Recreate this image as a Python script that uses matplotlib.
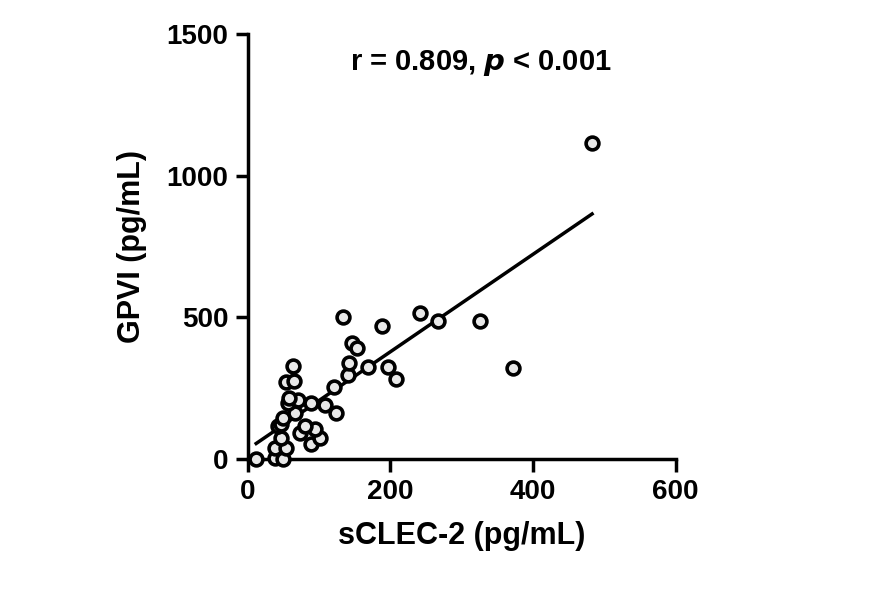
import numpy as np
import matplotlib
matplotlib.use("Agg")
from matplotlib import pyplot as plt

plt.rcParams['font.family'] = ['Liberation Sans', 'DejaVu Sans']
plt.rcParams['font.weight'] = 'bold'

sclec2 = [12, 38, 50, 39, 54, 47, 73, 89, 101, 94, 80, 43, 47, 50, 66, 57, 71, 58, 89,
          108, 124, 54, 65, 64, 121, 141, 142, 146, 153, 134, 169, 188, 197, 208, 242,
          267, 326, 372, 483]
gpvi = [0, 3, 0, 39, 38, 73, 91, 55, 73, 105, 116, 116, 124, 144, 163, 199, 208, 214, 199,
        191, 163, 273, 276, 328, 253, 296, 340, 411, 391, 502, 326, 470, 326, 281, 516,
        487, 487, 320, 1113]

x = np.array(sclec2, float)
y = np.array(gpvi, float)
slope, icpt = np.polyfit(x, y, 1)

fig = plt.figure(figsize=(8.75, 5.91), dpi=100)
ax = fig.add_axes([0.283, 0.223, 0.489, 0.72])

xx = np.array([x.min(), x.max()])
ax.plot(xx, slope * xx + icpt, color='black', lw=2.5, zorder=2)
ax.scatter(x, y, s=85, facecolor='#e8e8e8', edgecolor='black', linewidths=2.6, zorder=3, clip_on=False)

ax.set_xlim(0, 600)
ax.set_ylim(0, 1500)
ax.set_xticks([0, 200, 400, 600])
ax.set_yticks([0, 500, 1000, 1500])
for s in ['top', 'right']:
    ax.spines[s].set_visible(False)
for s in ['left', 'bottom']:
    ax.spines[s].set_linewidth(2.5)
ax.tick_params(width=2.5, length=9, labelsize=20, pad=5)
ax.set_xlabel('sCLEC-2 (pg/mL)', fontsize=22, fontweight='bold', labelpad=12)
ax.set_ylabel('GPVI (pg/mL)', fontsize=22, fontweight='bold', labelpad=14)
ax.text(0.545, 0.93, r'r = 0.809, $\boldsymbol{p}$ < 0.001', transform=ax.transAxes,
        ha='center', va='center', fontsize=21, fontweight='bold')

fig.savefig('out.png', dpi=100)
